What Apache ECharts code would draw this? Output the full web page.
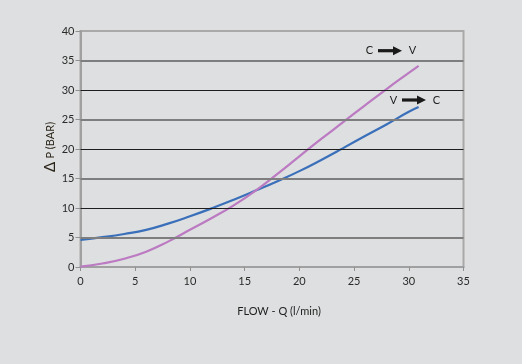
<!DOCTYPE html>
<html>
<head>
<meta charset="utf-8">
<script src="https://cdn.jsdelivr.net/npm/echarts@6/dist/echarts.min.js"></script>
<style>
html,body{margin:0;padding:0;background:#dedfe0;}
#c{width:522px;height:364px;}
</style>
</head>
<body>
<div id="c"></div>
<script>
// Flow Q (l/min) and pressure drop (bar)
const flowVC = [0, 2, 4, 6, 8, 10, 12, 14, 16, 18, 20, 22, 24, 26, 28, 30, 30.9];
const dpVC   = [4.6, 5.05, 5.6, 6.3, 7.35, 8.6, 9.95, 11.4, 12.95, 14.55, 16.25, 18.15, 20.15, 22.2, 24.2, 26.3, 27.1];
const flowCV = [0, 2, 4, 6, 8, 10, 12, 14, 16, 18, 20, 22, 24, 26, 28, 30, 30.9];
const dpCV   = [0.05, 0.6, 1.4, 2.6, 4.3, 6.3, 8.3, 10.45, 12.95, 15.8, 18.75, 21.7, 24.55, 27.4, 30.2, 32.9, 34.1];
const gridDark = [10, 20, 30];
const gridGray = [5, 15, 25, 35];
const xTicks = [0, 5, 10, 15, 20, 25, 30, 35];
const yTicks = [0, 5, 10, 15, 20, 25, 30, 35, 40];

const FONT = 'Lato';
const chart = echarts.init(document.getElementById('c'), null, {renderer: 'canvas'});

function pairs(xs, ys){ return xs.map((x,i)=>[x, ys[i]]); }

function arrow(x0, x1, yc){
  return [
    {type:'rect', shape:{x:x0, y:yc-1.6, width:(x1-x0)-8, height:3.2}, style:{fill:'#1a1a1a'}},
    {type:'polygon', shape:{points:[[x1-9, yc-4.5],[x1, yc],[x1-9, yc+4.5]]}, style:{fill:'#1a1a1a'}}
  ];
}

chart.setOption({
  backgroundColor: '#dedfe0',
  animation: false,
  grid: {left: 80.5, right: 58.5, top: 31, bottom: 97, show: true, borderColor: '#a9a9a9', borderWidth: 2, backgroundColor: 'transparent'},
  xAxis: {
    type: 'value', min: 0, max: 35, interval: 5,
    axisLine: {lineStyle: {color: '#a0a0a0', width: 2}},
    axisTick: {show: true, length: 4, lineStyle: {color: '#909090'}},
    axisLabel: {color: '#2a2a2a', fontSize: 11, fontFamily: FONT, margin: 9,
      formatter: v => xTicks.includes(v) ? String(v) : ''},
    splitLine: {show: false}
  },
  yAxis: {
    type: 'value', min: 0, max: 40, interval: 5,
    axisLine: {show: true, lineStyle: {color: '#a0a0a0', width: 2}},
    axisTick: {show: true, length: 5, lineStyle: {color: '#909090'}},
    axisLabel: {color: '#2a2a2a', fontSize: 11, fontFamily: FONT, margin: 6,
      formatter: v => yTicks.includes(v) ? String(v) : ''},
    splitLine: {show: false}
  },
  series: [
    {
      type: 'line', data: [], silent: true,
      markLine: {
        symbol: 'none', silent: true, label: {show: false},
        data: gridGray.map(v => ({yAxis: v, lineStyle: {color: '#7e7e7e', width: 2, type: 'solid'}}))
          .concat(gridDark.map(v => ({yAxis: v, lineStyle: {color: '#1e1e1e', width: 1, type: 'solid'}})))
      }
    },
    {
      name: 'V → C', type: 'line', smooth: 0.5, showSymbol: false,
      data: pairs(flowVC, dpVC),
      lineStyle: {color: '#3a6fba', width: 2.2}
    },
    {
      name: 'C → V', type: 'line', smooth: 0.5, showSymbol: false,
      data: pairs(flowCV, dpCV),
      lineStyle: {color: '#bb7ac2', width: 2.2}
    }
  ],
  graphic: [
    {type:'text', x: 279, y: 311,
      style:{text:'FLOW - Q (l/min)', font:'11px ' + FONT, fill:'#1e1e1e', textAlign:'center', textVerticalAlign:'middle'}},
    {type:'text', x: 50, y: 147, rotation: Math.PI/2,
      style:{rich:{d:{fontSize:15, fontFamily: FONT, fill:'#2a2418'}, t:{fontSize:11, fontFamily: FONT, fill:'#2a2418'}},
        text:'{d|Δ} {t|P (BAR)}', textAlign:'center', textVerticalAlign:'middle'}},
    {type:'text', x: 369.5, y: 50.5, style:{text:'C', font:'11px ' + FONT, fill:'#222', textAlign:'center', textVerticalAlign:'middle'}},
    {type:'text', x: 412.5, y: 50.5, style:{text:'V', font:'11px ' + FONT, fill:'#222', textAlign:'center', textVerticalAlign:'middle'}},
    {type:'text', x: 393.5, y: 100, style:{text:'V', font:'11px ' + FONT, fill:'#222', textAlign:'center', textVerticalAlign:'middle'}},
    {type:'text', x: 436.5, y: 100, style:{text:'C', font:'11px ' + FONT, fill:'#222', textAlign:'center', textVerticalAlign:'middle'}}
  ].concat(arrow(378, 402, 50.7)).concat(arrow(402, 426, 100))
});
</script>
</body>
</html>
